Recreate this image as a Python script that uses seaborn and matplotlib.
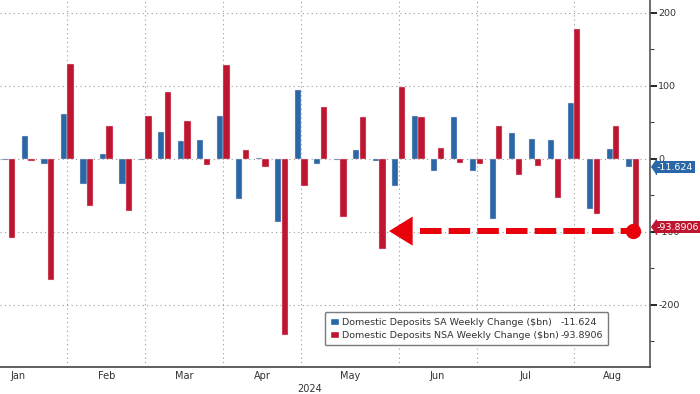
# Third Party Imports
import matplotlib
matplotlib.use('Agg')
import matplotlib.pyplot as plt
import matplotlib.transforms as mtransforms
from matplotlib.patches import Patch
import numpy as np
import pandas as pd
import seaborn as sns

# ------------------------------------------------------------------------------
# Data ($bn weekly change)
# ------------------------------------------------------------------------------

weeks = pd.date_range('2024-01-17', periods=33, freq='7D')

sa_change = [
    -1.8, 32, -7, 61, -35, 6.4, -35, -1, 36.6, 23.8, 26, 58.5, -55,
    1.5, -87, 94, -7, -1, 12, -2.3, -37.5, 59.4, -16, 57, -16, -83,
    36, 27, 26, 76, -69, 13, -11.624
]
nsa_change = [
    -108.8, -3, -165.5, 130, -64.5, 44.4, -71, 59.4, 91, 51.7, -9, 128.5,
    12, -11.4, -242, -37.5, 71, -79.6, 57.6, -123, 99, 57, 15.5, -5.5,
    -6.4, 44.4, -22.4, -9.6, -54, 178, -76, 45, -93.8906
]

sa_name = 'Domestic Deposits SA Weekly Change ($bn)'
nsa_name = 'Domestic Deposits NSA Weekly Change ($bn)'

y_ticks = [-200, -100, 0, 100, 200]
arrow_level = -99

# ------------------------------------------------------------------------------
# Styling
# ------------------------------------------------------------------------------

blue = '#2a67a6'
red = '#be1530'
arrow_red = '#e8000a'
grid_color = '#9a9a9a'
text_color = '#333333'

sns.set_style('white')
plt.rcParams['font.family'] = ['DejaVu Sans']

df = pd.DataFrame({
    'week': np.tile(np.arange(len(weeks)), 2),
    'value': sa_change + nsa_change,
    'series': [sa_name] * len(weeks) + [nsa_name] * len(weeks),
})

fig = plt.figure(figsize=(7, 3.94), dpi=100)
ax = fig.add_axes([0, 0.069, 0.9286, 0.931])

sns.barplot(
    data=df,
    x='week',
    y='value',
    hue='series',
    palette={sa_name: blue, nsa_name: red},
    saturation=1,
    width=0.68,
    gap=0.06,
    edgecolor='#f2d6dc',
    linewidth=0.3,
    legend=False,
    ax=ax
)

x_left, x_right = -0.45, 32.9
ax.set_xlim(x_left, x_right)
ax.set_ylim(-285, 217.7)

# ===== Month boundaries / labels (weeks indexed from first bar) =====
all_weeks = pd.date_range('2024-01-03', '2024-09-30', freq='7D')
offset = int((weeks[0] - all_weeks[0]).days / 7)
week_idx = np.arange(len(all_weeks)) - offset
months = all_weeks.to_period('M')
month_starts = [week_idx[months == m][0] for m in months.unique()]

ax.set_xticks([s for s in month_starts if x_left < s < x_right])
ax.set_xticklabels([])

label_pos, label_txt = [], []
for i, m in enumerate(months.unique()[:-1]):
    start = month_starts[i]
    end = min(month_starts[i + 1], x_right)
    if end <= x_left:
        continue
    label_pos.append((start + end) / 2)
    label_txt.append(m.strftime('%b'))
ax.set_xticks(label_pos, minor=True)
ax.set_xticklabels(label_txt, minor=True)
ax.tick_params(axis='x', which='minor', length=0, pad=3,
               labelsize=7, labelcolor=text_color)
ax.tick_params(axis='x', which='major', length=3, width=0.8,
               color='#555555', direction='out')

year_pos = (month_starts[0] + x_right) / 2
ax.text(year_pos, -0.047, '2024', transform=mtransforms.blended_transform_factory(
    ax.transData, ax.transAxes), ha='center', va='top', fontsize=7,
    color=text_color)

# ===== Y axis on the right =====
ax.yaxis.tick_right()
ax.set_yticks(y_ticks)
ax.set_yticklabels([str(t) for t in y_ticks])
ax.set_yticks(np.arange(-250, 201, 50), minor=True)
ax.tick_params(axis='y', which='major', length=5, width=1.2,
               color='black', labelsize=6.8, labelcolor=text_color, pad=1)
ax.tick_params(axis='y', which='minor', length=3, width=0.8, color='#444444')
ax.set_xlabel('')
ax.set_ylabel('')

# ===== Grid and spines =====
ax.grid(True, which='major', axis='both', color=grid_color,
        linestyle=(0, (1, 3)), linewidth=0.8)
ax.set_axisbelow(True)
for side in ['left', 'top']:
    ax.spines[side].set_visible(False)
ax.spines['right'].set_color('#555555')
ax.spines['right'].set_linewidth(1.2)
ax.spines['bottom'].set_color('#444444')
ax.spines['bottom'].set_linewidth(1.2)

# ===== Last value tags =====
trans = mtransforms.blended_transform_factory(ax.transAxes, ax.transData)
tag_point = [(-0.7, 0), (0, 1), (0, -1)]
for value, color in [(sa_change[-1], blue), (nsa_change[-1], red)]:
    ax.text(1.0105, value, f'{value:g}', transform=trans, ha='left',
            va='center', fontsize=6.8, color='white', zorder=6,
            clip_on=False,
            bbox=dict(boxstyle='square,pad=0.17', fc=color, ec='none'))
    ax.plot([1.0088], [value], transform=trans, marker=tag_point,
            markersize=10.5, color=color, clip_on=False, zorder=6)

# ===== Dashed arrow annotation =====
last = len(weeks) - 1
tip = 19.51
ax.plot([tip + 1.6, last + 0.03], [arrow_level, arrow_level],
        color=arrow_red, linewidth=4.3, linestyle=(0, (3.6, 1.2)),
        solid_capstyle='butt', zorder=4)
ax.plot([last + 0.03], [arrow_level], marker='o', markersize=10,
        color=arrow_red, zorder=5)
ax.annotate(
    '', xy=(tip, arrow_level), xytext=(tip + 1.3, arrow_level),
    arrowprops=dict(arrowstyle='-|>,head_length=1.7,head_width=1.05',
                    color=arrow_red, lw=0, shrinkA=0, shrinkB=0),
    zorder=5
)

# ===== Legend =====
handles = [Patch(fc=blue), Patch(fc=red), Patch(alpha=0), Patch(alpha=0)]
labels = [sa_name, nsa_name, f'{sa_change[-1]:g}', f'{nsa_change[-1]:g}']
leg = ax.legend(
    handles, labels,
    loc='lower left',
    bbox_to_anchor=(0.492, 0.0455),
    ncol=2,
    fontsize=6.8,
    handlelength=0.9,
    handleheight=0.9,
    handletextpad=0.3,
    columnspacing=-1.0,
    labelspacing=0.4,
    borderpad=0.6,
    fancybox=True,
    framealpha=1,
    edgecolor='#7a7a7a'
)
leg.get_frame().set_linewidth(1)
for t in leg.get_texts():
    t.set_color(text_color)

fig.savefig('out.png', dpi=100, facecolor='white')
